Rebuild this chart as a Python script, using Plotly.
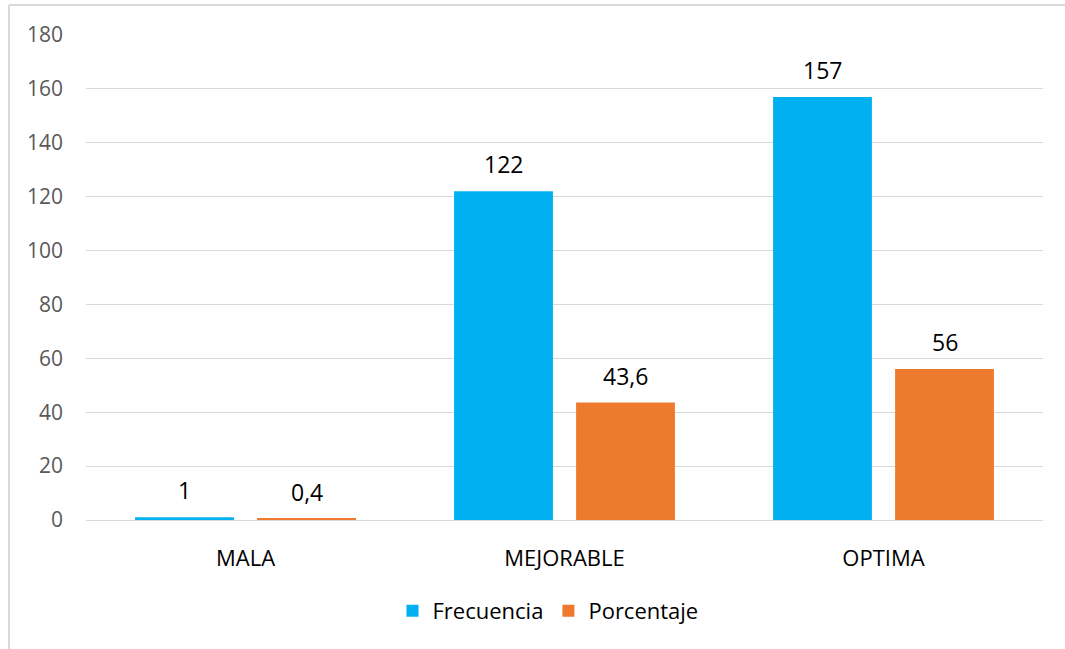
import plotly.graph_objects as go

categorias = ["MALA", "MEJORABLE", "OPTIMA"]
frecuencia = [1, 122, 157]
porcentaje = [0.4, 43.6, 56]
ticks_y = [0, 20, 40, 60, 80, 100, 120, 140, 160, 180]

AZUL = "#00B0F0"
NARANJA = "#EE7A2E"
GRIS_TXT = "#595959"
GRIS_LINEA = "#D9D9D9"
FUENTE = "'Open Sans', Lato, sans-serif"


def etiqueta(v):
    return f"{v:g}".replace(".", ",")


fig = go.Figure()
fig.add_trace(go.Bar(
    name="Frecuencia", x=categorias, y=frecuencia,
    marker=dict(color=AZUL, line=dict(width=0)),
))
fig.add_trace(go.Bar(
    name="Porcentaje", x=categorias, y=porcentaje,
    marker=dict(color=NARANJA, line=dict(width=0)),
))

# value labels above each bar
anot = []
for serie, desplaz in ((frecuencia, -61), (porcentaje, 61)):
    for c, v in zip(categorias, serie):
        anot.append(dict(
            x=c, y=v, xref="x", yref="y", text=etiqueta(v),
            showarrow=False, xshift=desplaz, yshift=9, yanchor="bottom",
            font=dict(family=FUENTE, size=23, color="#000000"),
        ))

W, H = 1065, 649
ml, mr, mt, mb = 86, 22, 35, 129
pw, ph = W - ml - mr, H - mt - mb

def px_x(p):
    return (p - ml) / pw

def px_y(p):
    return (H - mb - p) / ph

# chart-area frame (top and left edges)
formas = [
    dict(type="line", xref="paper", yref="paper",
         x0=px_x(9), y0=px_y(5), x1=px_x(W + 10), y1=px_y(5),
         line=dict(color=GRIS_LINEA, width=2)),
    dict(type="line", xref="paper", yref="paper",
         x0=px_x(9), y0=px_y(5), x1=px_x(9), y1=px_y(H + 10),
         line=dict(color=GRIS_LINEA, width=2)),
]

fig.update_layout(
    width=W, height=H,
    margin=dict(l=ml, r=mr, t=mt, b=mb),
    paper_bgcolor="white", plot_bgcolor="white",
    barmode="group", bargap=0.235, bargroupgap=0.19,
    font=dict(family=FUENTE, color=GRIS_TXT),
    showlegend=True,
    legend=dict(
        orientation="h", x=px_x(548), xanchor="center",
        y=px_y(611), yanchor="middle",
        font=dict(family=FUENTE, size=22, color="#000000"),
        itemwidth=30, traceorder="normal",
    ),
    annotations=anot,
    shapes=formas,
)
fig.update_yaxes(
    range=[0, 180], tickvals=ticks_y, showgrid=True,
    gridcolor=GRIS_LINEA, gridwidth=1, zeroline=False,
    showline=False, ticks="", ticklabelstandoff=22,
    tickfont=dict(family=FUENTE, size=21, color=GRIS_TXT),
)
fig.update_xaxes(
    showline=True, linecolor=GRIS_LINEA, linewidth=1,
    ticks="", ticklabelstandoff=19,
    tickfont=dict(family=FUENTE, size=22, color="#000000"),
)

fig.write_html("out.html")
